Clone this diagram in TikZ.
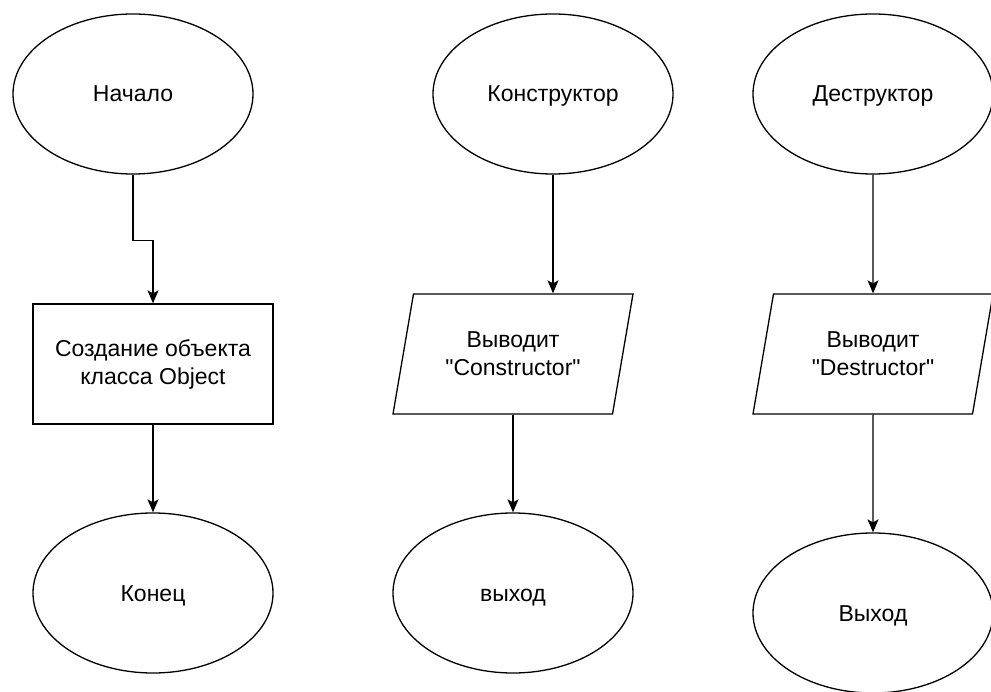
\documentclass[tikz,border=0pt]{standalone}
\usepackage{fontspec}
\setmainfont{Liberation Sans}[Ligatures=TeXOff]
\usetikzlibrary{shapes.geometric,arrows.meta}
\tikzset{
  term/.style={draw, ellipse, line width=1.3pt, minimum width=240pt, minimum height=160pt, inner sep=0pt,
    text height=20pt, text depth=4pt},
  proc/.style={draw, rectangle, line width=1.3pt, minimum width=240pt, minimum height=120pt, align=center},
  io/.style={draw, trapezium, trapezium left angle=68, trapezium right angle=112, trapezium stretches body,
    line width=1.3pt, minimum width=240pt, minimum height=120pt, align=center},
  arr/.style={-{Stealth[length=13pt,width=11pt,inset=3pt]}, line width=1.3pt}
}
\begin{document}
\begin{tikzpicture}[x=1pt,y=-1pt,font=\fontsize{23}{28}\selectfont]
\useasboundingbox (0,0) rectangle (991,692);
% main
\node[term] (start) at (133,94) {Начало};
\node[proc] (obj) at (153,364) {Создание объекта\\класса Object};
\node[term] (fin) at (153,593) {Конец};
% constructor
\node[term] (ctor) at (553,94) {Конструктор};
\node[io] (ctorout) at (513,354) {Выводит\\"Constructor"};
\node[term] (ctorexit) at (513,593) {выход};
% destructor
\node[term] (dtor) at (873,94) {Деструктор};
\node[io] (dtorout) at (873,354) {Выводит\\"Destructor"};
\node[term] (dtorexit) at (873,613) {Выход};
\draw[arr] (start.south) -- ++(0,66) -| (obj.north);
\draw[arr] (obj.south) -- (fin.north);
\draw[arr] (ctor.south) -- (ctor.south |- ctorout.north);
\draw[arr] (ctorout.center |- ctorout.south) -- (ctorexit.north);
\draw[arr] (dtor.south) -- (dtorout.north);
\draw[arr] (dtorout.south) -- (dtorexit.north);
\end{tikzpicture}
\end{document}
